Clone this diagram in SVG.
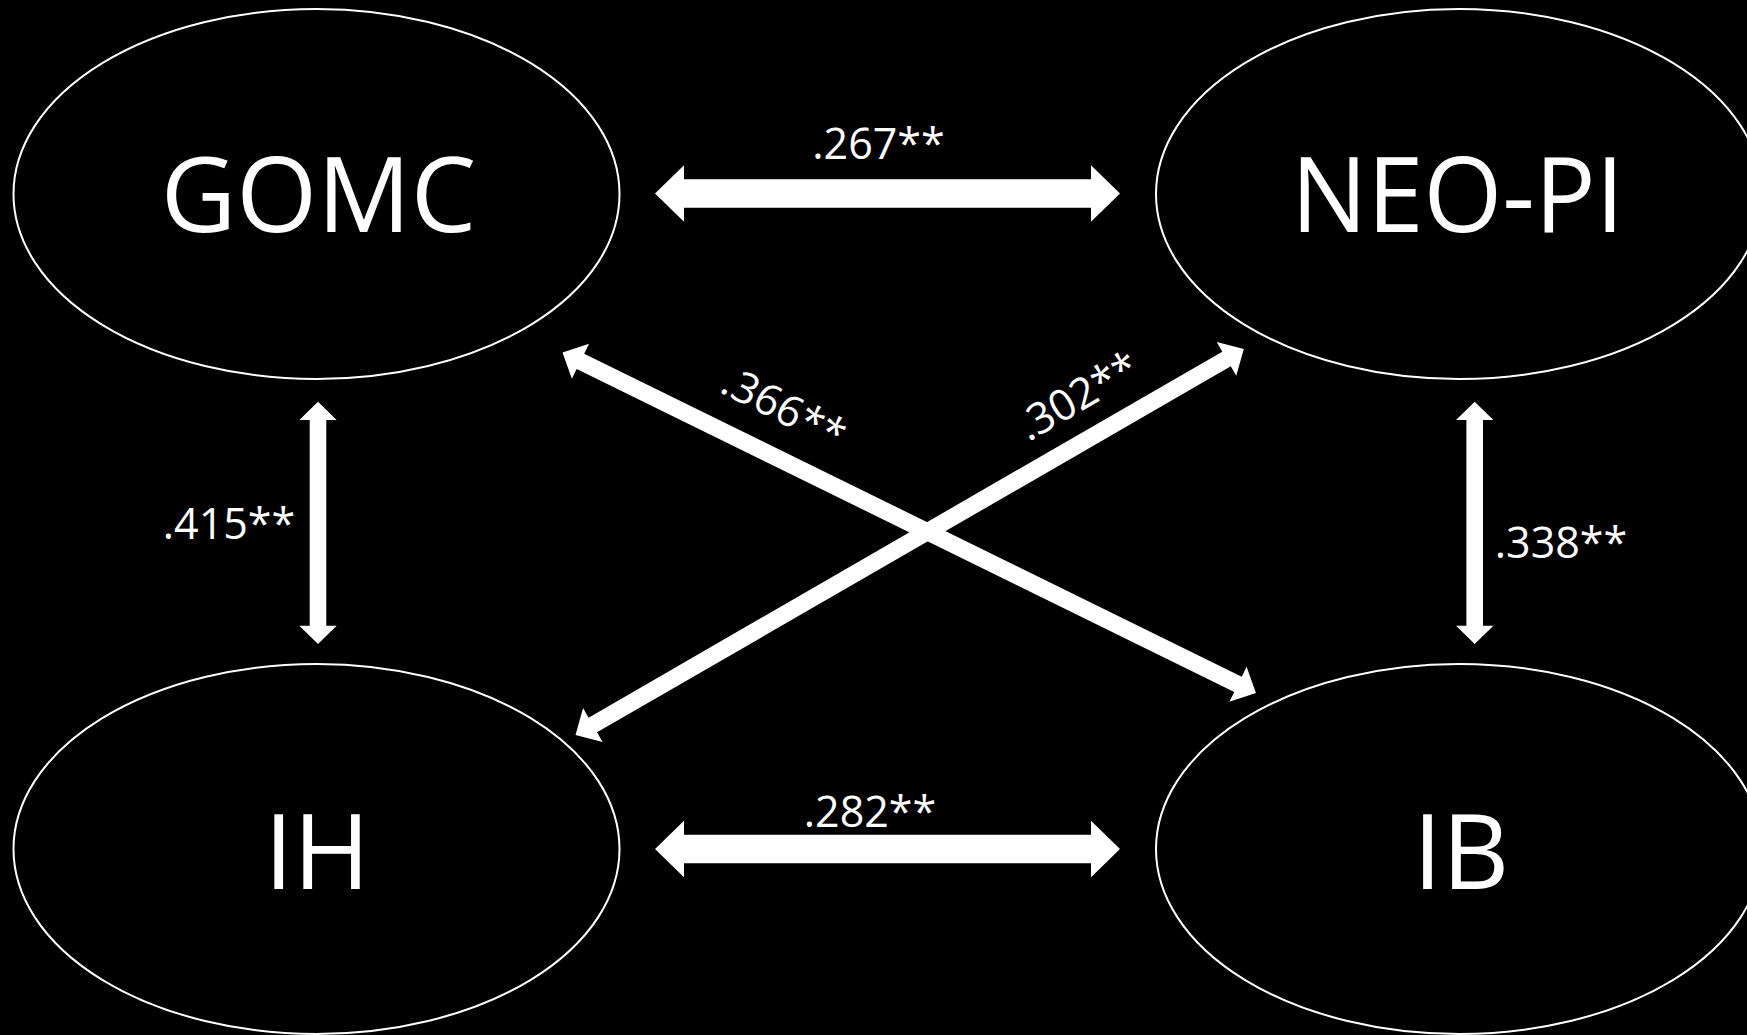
<svg xmlns="http://www.w3.org/2000/svg" width="1747" height="1035" viewBox="0 0 1747 1035">
  <style>
    .node { fill: #000; stroke: #fff; stroke-width: 2; }
    .big { font-family: "Open Sans", "Noto Sans", sans-serif; font-size: 104px; fill: #fff; text-anchor: middle; }
    .lbl { font-family: "Open Sans", "Noto Sans", sans-serif; font-size: 43px; fill: #fff; text-anchor: middle; }
    .arrow { fill: #fff; stroke: none; }
  </style>
  <rect x="0" y="0" width="1747" height="1035" fill="#000"/>

  <g id="node-gomc">
    <ellipse class="node" cx="316.5" cy="194" rx="303" ry="185"/>
    <text class="big" x="318.5" y="232">GOMC</text>
  </g>
  <g id="node-neopi">
    <ellipse class="node" cx="1459" cy="194" rx="303" ry="185"/>
    <text class="big" x="1457.5" y="232" textLength="333" lengthAdjust="spacingAndGlyphs">NEO-PI</text>
  </g>
  <g id="node-ih">
    <ellipse class="node" cx="316.5" cy="849" rx="303" ry="185"/>
    <text class="big" x="317" y="889">IH</text>
  </g>
  <g id="node-ib">
    <ellipse class="node" cx="1459" cy="849" rx="303" ry="185"/>
    <text class="big" x="1461" y="889">IB</text>
  </g>

  <g id="connectors">
    <polygon class="arrow" points="655,193.5 684,165.2 684,179.2 1091,179.2 1091,165.2 1120,193.5 1091,221.8 1091,207.8 684,207.8 684,221.8"/>
    <polygon class="arrow" points="655,849 684,820.7 684,834.7 1091,834.7 1091,820.7 1120,849 1091,877.3 1091,863.3 684,863.3 684,877.3"/>
    <polygon class="arrow" points="318,401.7 336.7,420 326.3,420 326.3,625.7 336.7,625.7 318,644 299.3,625.7 309.7,625.7 309.7,420 299.3,420"/>
    <polygon class="arrow" points="1474.7,401.7 1493.4,420 1483,420 1483,625.7 1493.4,625.7 1474.7,644 1456,625.7 1466.4,625.7 1466.4,420 1456,420"/>
    <polygon class="arrow" transform="translate(562.5,352.5) rotate(26.16)" points="0,0 20,-19.5 20,-8.5 752.6,-8.5 752.6,-19.5 772.6,0 752.6,19.5 752.6,8.5 20,8.5 20,19.5"/>
    <polygon class="arrow" transform="translate(575.5,735) rotate(-30.01)" points="0,0 20,-19.5 20,-8.5 751.8,-8.5 751.8,-19.5 771.8,0 751.8,19.5 751.8,8.5 20,8.5 20,19.5"/>

    <text class="lbl" x="878.5" y="159">.267**</text>
    <text class="lbl" x="870" y="827">.282**</text>
    <text class="lbl" x="229" y="539">.415**</text>
    <text class="lbl" x="1561" y="558">.338**</text>
    <text class="lbl" transform="translate(784,408) rotate(27)" x="0" y="15">.366**</text>
    <text class="lbl" transform="translate(1078,396) rotate(-30)" x="0" y="15">.302**</text>
  </g>
</svg>
